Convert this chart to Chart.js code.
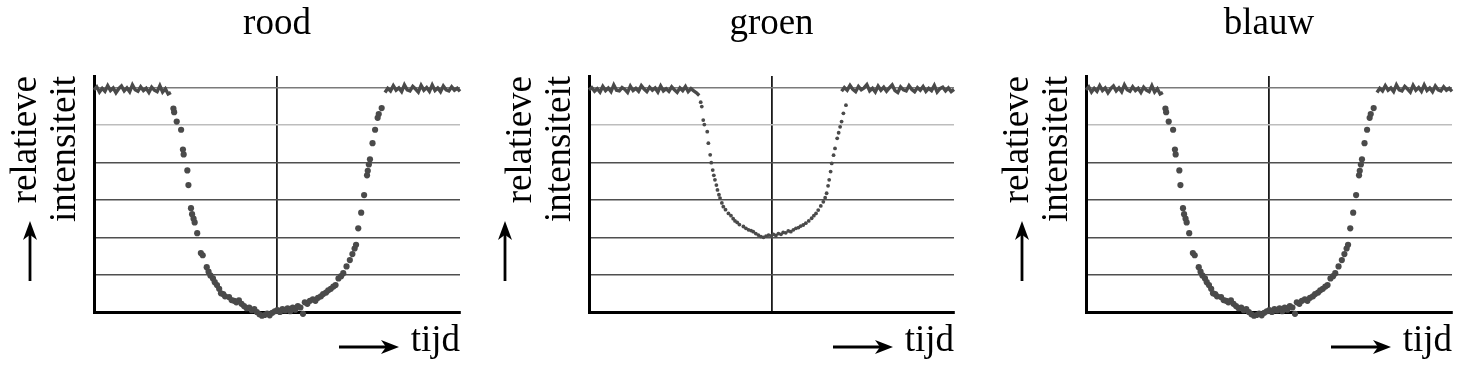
<!DOCTYPE html>
<html>
<head>
<meta charset="utf-8">
<script src="https://cdn.jsdelivr.net/npm/chart.js@4"></script>
<style>
  html, body { margin: 0; padding: 0; background: #fff; overflow: hidden; }
  canvas { position: absolute; top: 0; }
</style>
</head>
<body>
<canvas id="rood" width="474" height="378" style="left:0px"></canvas>
<canvas id="groen" width="474" height="378" style="left:495px"></canvas>
<canvas id="blauw" width="474" height="378" style="left:992px"></canvas>
<script>
// tijd runs 0..100, intensiteit 0..6 (grid at every unit)
const yTicks = [0, 1, 2, 3, 4, 5, 6];

// rood (blauw looks the same)
const roodFlatLeftRange = [0, 21];
const roodFlatLeft = [5.95, 6.03, 5.89, 5.99, 5.91, 6.06, 5.93, 6.00, 5.87, 5.98, 6.05, 5.92, 6.00, 5.90, 6.08,
  5.95, 5.91, 6.03, 5.93, 5.99, 5.88, 6.02, 5.94, 5.90, 6.06, 5.89, 5.98, 5.84, 5.88];
const roodFlatRightRange = [79.5, 100];
const roodFlatRight = [5.88, 5.99, 5.92, 6.06, 5.94, 6.00, 5.90, 6.08, 5.95, 5.92, 6.04, 5.97, 5.89, 6.07,
  5.94, 6.01, 5.91, 6.08, 5.93, 6.00, 5.90, 6.05, 5.95, 5.92, 6.03, 5.94, 5.99, 5.91];
const roodDipX = [21.7, 21.9, 22.6, 23.8, 24.3, 24.5, 25.5, 25.8, 26.5, 26.8, 27.2, 27.5, 28.2, 29.2, 29.7,
  30.8, 31.3, 31.8, 32.5, 33.0, 33.6, 34.2, 34.7, 35.3, 35.8, 36.9, 37.6, 38.3, 38.9, 39.6, 40.3, 41.0,
  41.7, 42.4, 43.1, 43.8, 44.5, 45.2, 45.9, 46.6, 47.3, 48.0, 48.7, 49.4, 50.1, 50.8, 51.5, 52.2, 52.9,
  53.6, 54.3, 55.0, 55.7, 56.4, 57.1, 57.6, 58.3, 59.0, 59.8, 60.5, 61.2, 62.0, 62.6, 63.4, 64.0, 64.7,
  65.4, 66.0, 66.8, 67.5, 68.1, 69.0, 69.9, 70.6, 71.2, 71.6, 72.2, 73.0, 73.8, 74.6, 74.8, 75.1, 75.4,
  76.1, 76.8, 77.5, 77.8, 78.6];
const roodDipY = [5.45, 5.35, 5.10, 4.88, 4.35, 4.22, 3.79, 3.40, 2.78, 2.62, 2.50, 2.40, 2.11, 1.58, 1.52,
  1.20, 1.08, 0.98, 0.90, 0.80, 0.72, 0.62, 0.50, 0.48, 0.42, 0.40, 0.32, 0.30, 0.26, 0.31, 0.22, 0.16,
  0.10, 0.12, 0.05, 0.08, 0.00, -0.06, -0.10, -0.08, -0.04, -0.09, -0.02, 0.02, 0.05, 0.00, 0.08, 0.04, 0.10,
  0.02, 0.12, 0.06, 0.16, 0.12, -0.05, 0.26, 0.22, 0.30, 0.34, 0.30, 0.38, 0.42, 0.48, 0.52, 0.58, 0.62,
  0.68, 0.72, 0.90, 0.96, 1.04, 1.22, 1.39, 1.55, 1.70, 1.80, 2.24, 2.66, 3.13, 3.66, 3.78, 3.95, 4.09,
  4.52, 4.88, 5.20, 5.30, 5.46];

// groen
const groenFlatLeftRange = [0, 30.2];
const groenFlatLeft = [5.95, 6.01, 5.91, 5.98, 5.89, 6.04, 5.93, 6.00, 5.90, 6.08, 5.94, 5.92, 6.01, 5.96,
  5.88, 6.05, 5.93, 5.99, 5.91, 6.06, 5.97, 5.90, 6.02, 5.94, 6.00, 5.89, 6.05, 5.92, 5.98, 5.91, 6.03,
  5.95, 5.88, 6.00, 5.93, 6.04, 5.90, 5.98, 5.92, 5.87, 5.80];
const groenFlatRightRange = [69.2, 100];
const groenFlatRight = [5.91, 6.01, 5.94, 6.07, 5.96, 5.90, 6.04, 5.95, 6.00, 6.09, 5.92, 5.99, 5.89, 6.05,
  5.94, 6.02, 5.91, 6.00, 6.08, 5.93, 5.88, 6.03, 5.95, 5.92, 6.06, 5.96, 5.90, 6.01, 5.94, 6.04, 5.91,
  5.99, 5.93, 6.07, 5.89, 5.98, 6.02, 5.92, 6.00, 5.90, 5.96];
const groenDipX = [30.6, 30.9, 31.3, 31.6, 32.4, 32.7, 33.2, 33.5, 33.9, 34.2, 34.5, 34.9, 35.2, 35.6, 35.9,
  36.4, 36.8, 37.4, 38.2, 38.9, 39.5, 40.0, 40.6, 41.2, 42.3, 43.0, 43.7, 44.4, 45.0, 45.7, 46.4, 47.1,
  47.8, 48.5, 49.2, 49.9, 50.5, 51.2, 51.9, 52.6, 53.2, 53.9, 54.6, 55.3, 56.0, 56.7, 57.4, 58.0, 58.7,
  59.4, 60.2, 61.0, 61.6, 62.2, 62.8, 63.5, 64.2, 64.7, 65.1, 65.5, 65.8, 66.2, 66.5, 67.0, 67.4, 68.0,
  68.4, 68.8, 69.2, 69.7, 70.4];
const groenDipY = [5.62, 5.50, 5.14, 5.02, 4.83, 4.52, 4.21, 4.00, 3.80, 3.66, 3.54, 3.40, 3.27, 3.14, 3.05,
  2.92, 2.82, 2.74, 2.64, 2.58, 2.50, 2.44, 2.40, 2.34, 2.29, 2.24, 2.20, 2.18, 2.15, 2.10, 2.06, 2.02,
  2.00, 2.03, 2.06, 2.04, 2.08, 2.05, 2.10, 2.08, 2.13, 2.12, 2.17, 2.15, 2.20, 2.24, 2.26, 2.30, 2.33,
  2.38, 2.44, 2.51, 2.58, 2.64, 2.73, 2.84, 2.95, 3.06, 3.18, 3.38, 3.54, 3.76, 3.98, 4.20, 4.38, 4.65,
  4.80, 4.96, 5.10, 5.32, 5.54];

const ink = '#4a4a4a';
const serif = "'Liberation Serif', 'Times New Roman', serif";

function flatPoints(range, values) {
  const step = (range[1] - range[0]) / (values.length - 1);
  return values.map((v, i) => ({ x: range[0] + i * step, y: v }));
}

function arrow(ctx, x1, y1, x2, y2, head, half) {
  const a = Math.atan2(y2 - y1, x2 - x1);
  ctx.save();
  ctx.strokeStyle = '#000';
  ctx.fillStyle = '#000';
  ctx.lineWidth = 2.8;
  ctx.beginPath();
  ctx.moveTo(x1, y1);
  ctx.lineTo(x2 - Math.cos(a) * head * 0.6, y2 - Math.sin(a) * head * 0.6);
  ctx.stroke();
  ctx.translate(x2, y2);
  ctx.rotate(a);
  ctx.beginPath();
  ctx.moveTo(0, 0);
  ctx.lineTo(-head, -half);
  ctx.lineTo(-head * 0.72, 0);
  ctx.lineTo(-head, half);
  ctx.closePath();
  ctx.fill();
  ctx.restore();
}

function makePanel(id, title, flL, flLR, dipX, dipY, flR, flRR, dotR, upArrowDx, padRight) {
  const arrows = {
    id: 'arrows',
    afterDraw(chart) {
      const ca = chart.chartArea;
      const ctx = chart.ctx;
      arrow(ctx, ca.left + upArrowDx, ca.bottom - 31, ca.left + upArrowDx, ca.bottom - 91, 19, 7);
      arrow(ctx, ca.right - 121, ca.bottom + 35, ca.right - 61, ca.bottom + 35, 18, 7);
    }
  };
  new Chart(document.getElementById(id), {
    type: 'scatter',
    data: {
      datasets: [
        { data: flatPoints(flLR, flL), showLine: true, pointRadius: 0, borderColor: ink, borderWidth: 3.4, clip: false },
        { data: dipX.map((x, i) => ({ x: x, y: dipY[i] })), pointRadius: dotR, backgroundColor: ink, borderWidth: 0, clip: false },
        { data: flatPoints(flRR, flR), showLine: true, pointRadius: 0, borderColor: ink, borderWidth: 3.4, clip: false }
      ]
    },
    options: {
      responsive: false,
      animation: false,
      events: [],
      layout: { padding: { left: 0, right: padRight, top: 0, bottom: 0 } },
      plugins: { legend: { display: false }, tooltip: { enabled: false } },
      scales: {
        x: {
          type: 'linear', min: 0, max: 100,
          afterBuildTicks: s => { s.ticks = [{ value: 50 }]; },
          grid: { color: '#1a1a1a', lineWidth: 1.8, drawTicks: false },
          border: { color: '#000', width: 3 },
          ticks: { display: false },
          title: {
            display: true, text: 'tijd', align: 'end', color: '#000',
            font: { family: serif, size: 37, lineHeight: 1 },
            padding: { top: 10.5, bottom: 18.5 }
          }
        },
        top: {
          type: 'linear', position: 'top', min: 0, max: 100,
          grid: { display: false, drawTicks: false },
          border: { display: false },
          ticks: { display: false },
          title: {
            display: true, text: title, color: '#000',
            font: { family: serif, size: 37, lineHeight: 1 },
            padding: { top: 6.2, bottom: 32.8 }
          }
        },
        y: {
          type: 'linear', min: 0, max: 6.32,
          afterBuildTicks: s => { s.ticks = yTicks.map(v => ({ value: v })); },
          grid: {
            drawTicks: false, lineWidth: 1.6,
            color: c => c.tick.value === 0 ? 'rgba(0,0,0,0)' : (c.tick.value === 5 ? '#bdbdbd' : (c.tick.value === 6 ? '#7a7a7a' : '#4f4f4f'))
          },
          border: { color: '#000', width: 3 },
          ticks: { display: false },
          title: {
            display: true, text: ['relatieve', 'intensiteit'], align: 'end', color: '#000',
            font: { family: serif, size: 37, lineHeight: 1.05 },
            padding: { top: 7.3, bottom: 9 }
          }
        }
      }
    },
    plugins: [arrows]
  });
}

makePanel('rood', 'rood', roodFlatLeft, roodFlatLeftRange, roodDipX, roodDipY, roodFlatRight, roodFlatRightRange, 3.1, -64, 14);
makePanel('groen', 'groen', groenFlatLeft, groenFlatLeftRange, groenDipX, groenDipY, groenFlatRight, groenFlatRightRange, 1.9, -84, 15);
makePanel('blauw', 'blauw', roodFlatLeft, roodFlatLeftRange, roodDipX, roodDipY, roodFlatRight, roodFlatRightRange, 3.1, -64, 14);
</script>
</body>
</html>
